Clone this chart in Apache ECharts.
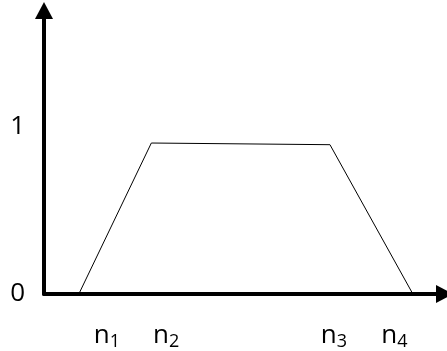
<!DOCTYPE html>
<html>
<head>
<meta charset="utf-8">
<script src="https://cdn.jsdelivr.net/npm/echarts@6/dist/echarts.min.js"></script>
<style>
  html, body { margin: 0; padding: 0; background: #fff; }
  #chart { width: 447px; height: 351px; }
</style>
</head>
<body>
<div id="chart"></div>
<script>
// trapezoid corners (x on a 0..100 scale, y membership value)
const xVals = [8.7, 26.8, 71.4, 92.1]
const yVals = [0, 0.90, 0.89, 0]

// tick labels under the x axis and where they sit
const xLabelSubs = ['1', '2', '3', '4']
const xLabelPos = [15.7, 30.5, 72.4, 87.5]
const yTicks = [0, 1]

const chart = echarts.init(document.getElementById('chart'))

const font = '"Open Sans", "DejaVu Sans", sans-serif'

chart.setOption({
  animation: false,
  grid: {
    left: 44,
    right: 2.5,
    top: 10.5,
    bottom: 57
  },
  xAxis: {
    type: 'value',
    min: 0,
    max: 100,
    splitLine: { show: false },
    axisTick: { show: false },
    axisLine: {
      lineStyle: { color: '#000', width: 4 },
      symbol: ['none', 'triangle'],
      symbolSize: [18, 17]
    },
    axisLabel: {
      customValues: xLabelPos,
      margin: 27,
      formatter: function (v) {
        const i = xLabelPos.indexOf(v)
        return '{n|n}{s|' + xLabelSubs[i] + '}'
      },
      rich: {
        n: { fontFamily: font, fontSize: 26, lineHeight: 30, color: '#000' },
        s: { fontFamily: font, fontSize: 18, lineHeight: 19, color: '#000', verticalAlign: 'bottom' }
      }
    }
  },
  yAxis: {
    type: 'value',
    min: 0,
    max: 1.69,
    splitLine: { show: false },
    axisTick: { show: false },
    axisLine: {
      lineStyle: { color: '#000', width: 4 },
      symbol: ['none', 'triangle'],
      symbolSize: [18, 17]
    },
    axisLabel: {
      customValues: yTicks,
      margin: 19,
      fontFamily: font,
      fontSize: 26,
      color: '#000',
      padding: [0, 0, 8, 0]
    }
  },
  series: [{
    type: 'line',
    symbol: 'none',
    data: xVals.map((x, i) => [x, yVals[i]]),
    lineStyle: { color: '#000', width: 1 }
  }]
})
</script>
</body>
</html>
